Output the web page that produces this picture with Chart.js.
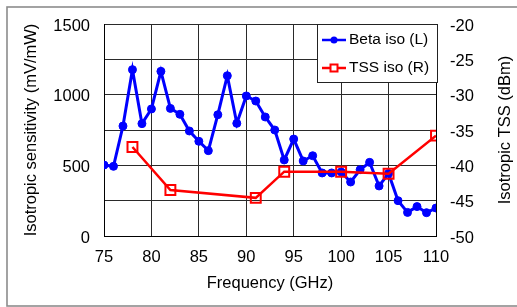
<!DOCTYPE html>
<html>
<head>
<meta charset="utf-8">
<script src="https://cdn.jsdelivr.net/npm/chart.js"></script>
<style>
  html, body { margin: 0; padding: 0; background: #fff; }
  #wrap { position: relative; width: 517px; height: 307px; }
</style>
</head>
<body>
<div id="wrap"><canvas id="chart" width="517" height="307"></canvas></div>
<script>
    // values
    const freqBeta = [75, 76, 77, 78, 79, 80, 81, 82, 83, 84, 85, 86, 87, 88, 89, 90, 91, 92,
                      93, 94, 95, 96, 97, 98, 99, 100, 101, 102, 103, 104, 105, 106, 107, 108, 109, 110];
    const betaIso = [502, 493, 778, 1177, 795, 899, 1165, 903, 861, 743, 670, 604, 858, 1134, 797, 991, 955, 842,
                     750, 538, 686, 531, 568, 446, 446, 453, 382, 469, 521, 354, 443, 250, 167, 208, 165, 198];
    const freqTss = [78, 82, 91, 94, 100, 105, 110];
    const tssIso = [-37.4, -43.5, -44.6, -40.9, -40.9, -41.2, -35.8];

    const xTicks = [75, 80, 85, 90, 95, 100, 105, 110];
    const leftLabels = [0, 500, 1000, 1500];

    const BLUE = '#0000ff';
    const RED = '#ff0000';
    const FONT = 'Liberation Sans, Arial, sans-serif';

    function pts(xs, ys) {
        return xs.map((x, i) => ({ x: x, y: ys[i] }));
    }

    // gray frame round the whole figure
    const framePlugin = {
        id: 'frame',
        beforeDraw(chart) {
            const ctx = chart.ctx;
            ctx.save();
            ctx.strokeStyle = '#8c8c8c';
            ctx.lineWidth = 1.6;
            ctx.strokeRect(7, 7, 530, 299);
            ctx.restore();
        }
    };

    // right axis title reads bottom-to-top, plus the boxed legend inside the plot
    const extrasPlugin = {
        id: 'extras',
        afterDraw(chart) {
            const ctx = chart.ctx;
            ctx.save();
            ctx.fillStyle = '#000';
            ctx.font = '16.5px ' + FONT;
            ctx.textAlign = 'center';
            ctx.textBaseline = 'middle';
            ctx.translate(505, 130);
            ctx.rotate(-Math.PI / 2);
            ctx.fillText('Isotropic TSS (dBm)', 0, 0);
            ctx.restore();

            // legend
            const lx = 317, ly = 24, lw = 120, lh = 58;
            ctx.save();
            ctx.fillStyle = '#fff';
            ctx.fillRect(lx, ly, lw, lh);
            ctx.strokeStyle = '#222';
            ctx.lineWidth = 1;
            ctx.strokeRect(lx + 0.5, ly + 0.5, lw, lh);
            const rows = [40, 68];
            chart.data.datasets.forEach((ds, i) => {
                const y = rows[i];
                ctx.strokeStyle = ds.borderColor;
                ctx.lineWidth = 2.5;
                ctx.beginPath();
                ctx.moveTo(322, y);
                ctx.lineTo(346, y);
                ctx.stroke();
                if (ds.pointStyle === 'rect') {
                    ctx.fillStyle = '#fff';
                    ctx.fillRect(330.5, y - 3.5, 7, 7);
                    ctx.lineWidth = 2;
                    ctx.strokeRect(330.5, y - 3.5, 7, 7);
                } else {
                    ctx.fillStyle = ds.borderColor;
                    ctx.beginPath();
                    ctx.arc(334, y, 3.5, 0, Math.PI * 2);
                    ctx.fill();
                }
                ctx.fillStyle = '#000';
                ctx.font = '15.5px ' + FONT;
                ctx.textAlign = 'left';
                ctx.textBaseline = 'middle';
                ctx.fillText(ds.label, 349, y);
            });
            ctx.restore();
        }
    };

    const config = {
        type: 'line',
        data: {
            datasets: [{
                label: 'Beta iso (L)',
                data: pts(freqBeta, betaIso),
                yAxisID: 'y',
                borderColor: BLUE,
                backgroundColor: BLUE,
                borderWidth: 3,
                pointRadius: 4,
                pointBorderWidth: 1,
                pointBackgroundColor: BLUE,
                pointStyle: 'circle',
                tension: 0,
                order: 1
            },
            {
                label: 'TSS iso (R)',
                data: pts(freqTss, tssIso),
                yAxisID: 'y1',
                borderColor: RED,
                backgroundColor: '#fff',
                borderWidth: 2.5,
                pointRadius: 7,
                pointBorderWidth: 2,
                pointBackgroundColor: 'rgba(255,255,255,0)',
                pointStyle: 'rect',
                tension: 0,
                order: 0
            }]
        },
        options: {
            responsive: false,
            animation: false,
            events: [],
            layout: { padding: { top: 24, left: 0, right: 0, bottom: 0 } },
            plugins: {
                legend: { display: false },
                tooltip: { enabled: false }
            },
            scales: {
                x: {
                    type: 'linear',
                    min: 75,
                    max: 110,
                    afterBuildTicks(scale) {
                        scale.ticks = xTicks.map(v => ({ value: v }));
                    },
                    afterFit(scale) { scale.height = 71; },
                    grid: { color: '#2a2a2a', lineWidth: 1, drawTicks: false },
                    border: { color: '#000', width: 1 },
                    ticks: { color: '#000', padding: 12, font: { family: FONT, size: 16.5 }, maxRotation: 0 },
                    title: {
                        display: true,
                        text: 'Frequency (GHz)',
                        color: '#000',
                        font: { family: FONT, size: 16.5 },
                        padding: { top: 0, bottom: 14 }
                    }
                },
                y: {
                    type: 'linear',
                    position: 'left',
                    min: 0,
                    max: 1500,
                    afterFit(scale) { scale.width = 104; },
                    grid: { color: '#2a2a2a', lineWidth: 1, drawTicks: false },
                    border: { color: '#000', width: 1 },
                    ticks: {
                        stepSize: 250,
                        color: '#000',
                        padding: 14,
                        labelOffset: 2,
                        font: { family: FONT, size: 16.5 },
                        callback: v => leftLabels.includes(v) ? String(v) : ''
                    },
                    title: {
                        display: true,
                        text: 'Isotropic sensitivity (mV/mW)',
                        color: '#000',
                        font: { family: FONT, size: 16.5 },
                        padding: { top: 22, bottom: 0 }
                    }
                },
                y1: {
                    type: 'linear',
                    position: 'right',
                    min: -50,
                    max: -20,
                    afterFit(scale) { scale.width = 81; },
                    grid: { drawOnChartArea: false, drawTicks: false },
                    border: { color: '#000', width: 1 },
                    ticks: {
                        stepSize: 5,
                        color: '#000',
                        padding: 14,
                        labelOffset: 2,
                        font: { family: FONT, size: 16.5 }
                    }
                }
            }
        },
        plugins: [framePlugin, extrasPlugin]
    };

    new Chart(document.getElementById('chart'), config);
</script>
</body>
</html>
